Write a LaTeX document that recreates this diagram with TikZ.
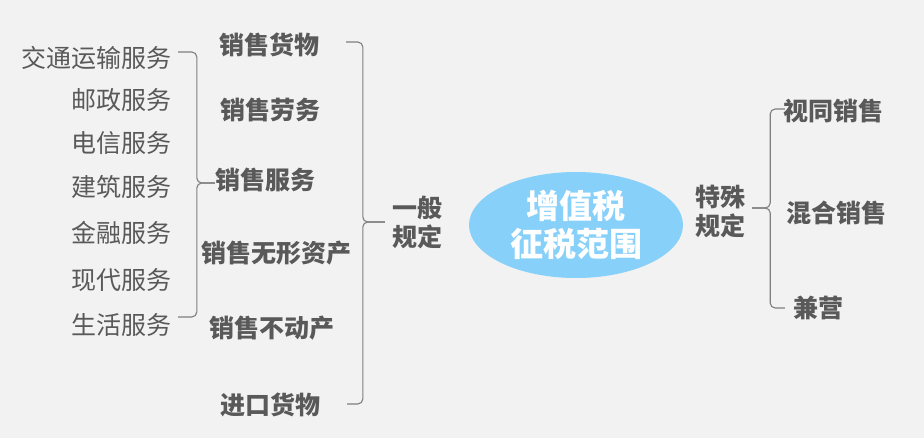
\documentclass[tikz,border=0pt]{standalone}
\usepackage{fontspec}
\setmainfont{Noto Sans CJK SC}
\usetikzlibrary{shapes.geometric, calc}
\definecolor{txtgray}{RGB}{89, 89, 89}
\definecolor{linegray}{RGB}{128, 128, 128}
\definecolor{bggray}{RGB}{242, 242, 242}
\definecolor{taxblue}{RGB}{135, 208, 250}

\begin{document}
\begin{tikzpicture}[
  x=1pt, y=-1pt,
  every node/.style={font=\fontsize{25}{29}\selectfont, text=txtgray, inner sep=0pt, align=center},
  head/.style={font=\fontsize{25}{29}\selectfont\bfseries},
  core/.style={ellipse, fill=taxblue, minimum width=214pt, minimum height=106pt, text=white, font=\fontsize{33}{38}\selectfont\bfseries},
  brace/.style={draw=linegray, line width=1.1pt, rounded corners=5pt}
]
  \fill[bggray] (0,0) rectangle (924,438);
  \useasboundingbox (0,0) rectangle (924,438);

  % 中心
  \node[core] (zzs) at (576, 225) {增值税\\征税范围};

  % 一般规定
  \node[head] (ybgd) at (417, 222) {一般\\规定};
  \node[head] (xshw) at (269, 45) {销售货物};
  \node[head] (xslw) at (270, 110) {销售劳务};
  \node[head] (xsfw) at (265, 180) {销售服务};
  \node[head] (xswx) at (276, 253) {销售无形资产};
  \node[head] (xsbd) at (272, 328) {销售不动产};
  \node[head] (jkhw) at (270, 405) {进口货物};

  % 销售服务
  \node[anchor=east] (jtys) at (172, 58) {交通运输服务};
  \node[anchor=east] (yzfw) at (172, 100) {邮政服务};
  \node[anchor=east] (dxfw) at (172, 143) {电信服务};
  \node[anchor=east] (jzfw) at (172, 187) {建筑服务};
  \node[anchor=east] (jrfw) at (172, 233) {金融服务};
  \node[anchor=east] (xdfw) at (172, 280) {现代服务};
  \node[anchor=east] (shfw) at (172, 325) {生活服务};

  % 特殊规定
  \node[head] (tsgd) at (720, 212) {特殊\\规定};
  \node[head] (stxs) at (833, 111) {视同销售};
  \node[head] (hhxs) at (836, 213) {混合销售};
  \node[head] (jy) at (818, 308) {兼营};

  % 括号
  \draw[brace] ($(jtys.east)+(6,-6)$) -| ($(xsfw.west)+(-18,3)$) -- ($(xsfw.west)+(0,3)$);
  \draw[brace] ($(shfw.east)+(6,-8)$) -| ($(xsfw.west)+(-18,3)$) -- ($(xsfw.west)+(0,3)$);

  \draw[brace] ($(xshw.east)+(27,-3)$) -| ($(ybgd.west)+(-29,0)$) -- ($(ybgd.west)+(-7,0)$);
  \draw[brace] ($(jkhw.east)+(27,-1)$) -| ($(ybgd.west)+(-29,0)$) -- ($(ybgd.west)+(-7,0)$);

  \draw[brace] ($(stxs.west)+(2,-2)$) -| ($(tsgd.east)+(25,-4)$) -- ($(tsgd.east)+(7,-4)$);
  \draw[brace] ($(jy.west)+(-8,0)$) -| ($(tsgd.east)+(25,-4)$) -- ($(tsgd.east)+(7,-4)$);

\end{tikzpicture}
\end{document}
